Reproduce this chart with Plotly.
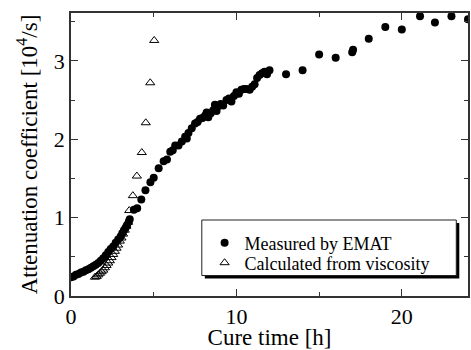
import plotly.graph_objects as go

# Measured by EMAT
meas_x = [0.0, 0.15, 0.3, 0.45, 0.6, 0.75, 0.9, 1.05, 1.2, 1.35, 1.5, 1.65, 1.8, 1.95,
          2.1, 2.25, 2.4, 2.55, 2.7, 2.85, 3.0, 3.1, 3.2, 3.3, 3.4, 3.5, 3.55,
          3.8, 4.0, 4.25, 4.5, 4.8, 5.0, 5.3, 5.6, 5.8, 6.0, 6.15, 6.3, 6.5, 6.7,
          6.9, 7.0, 7.1, 7.3, 7.5, 7.65, 7.8, 7.95, 8.1, 8.2, 8.3, 8.45, 8.6, 8.7,
          8.8, 8.9, 9.05, 9.2, 9.4, 9.55, 9.7, 9.85, 10.0, 10.15, 10.3, 10.45,
          10.6, 10.8, 10.95, 11.1, 11.25, 11.4, 11.55, 11.7, 11.85, 12.0,
          13.0, 14.0, 15.0, 16.0, 17.0, 17.05, 18.0, 19.0, 20.0, 21.1, 22.0, 23.0, 24.0]
meas_y = [0.24, 0.25, 0.27, 0.28, 0.30, 0.31, 0.33, 0.34, 0.36, 0.38, 0.40, 0.42, 0.45, 0.48,
          0.52, 0.56, 0.60, 0.63, 0.68, 0.72, 0.76, 0.80, 0.84, 0.87, 0.91, 0.95, 0.98,
          1.10, 1.12, 1.23, 1.35, 1.45, 1.51, 1.63, 1.72, 1.74, 1.84, 1.86, 1.92, 1.92, 1.97,
          2.03, 2.01, 2.08, 2.14, 2.20, 2.22, 2.26, 2.27, 2.30, 2.34, 2.28, 2.33, 2.37, 2.44,
          2.36, 2.42, 2.45, 2.43, 2.50, 2.52, 2.48, 2.55, 2.60, 2.58, 2.63, 2.64,
          2.64, 2.63, 2.67, 2.70, 2.78, 2.82, 2.84, 2.86, 2.83, 2.88,
          2.83, 2.88, 3.08, 3.04, 3.11, 3.14, 3.28, 3.43, 3.40, 3.57, 3.49, 3.57, 3.53]

# Calculated from viscosity
calc_x = [1.45, 1.55, 1.65, 1.75, 1.85, 1.95, 2.05, 2.15, 2.25, 2.35, 2.45, 2.55, 2.65,
          2.75, 2.85, 2.95, 3.05, 3.15, 3.25, 3.35, 3.45,
          3.52, 3.74, 3.98, 4.28, 4.52, 4.79, 5.03]
calc_y = [0.24, 0.25, 0.27, 0.29, 0.31, 0.33, 0.36, 0.39, 0.42, 0.45, 0.49, 0.53, 0.57,
          0.61, 0.65, 0.70, 0.74, 0.79, 0.84, 0.89, 0.94,
          1.09, 1.28, 1.53, 1.83, 2.21, 2.72, 3.26]

x_ticks = [0, 10, 20]
y_ticks = [0, 1, 2, 3]

FONT = "Liberation Serif"
PW, PH = 396.7, 283.0  # plot area size in px (for paper-coordinate offsets)

fig = go.Figure()
fig.add_trace(go.Scatter(
    x=meas_x, y=meas_y, mode="markers", name="Measured by EMAT", legend="legend",
    marker=dict(symbol="circle", size=8, color="black", line=dict(width=0)),
))
fig.add_trace(go.Scatter(
    x=calc_x, y=calc_y, mode="markers", name="Calculated from viscosity", legend="legend2",
    marker=dict(symbol="triangle-up-open", size=8, color="black", line=dict(width=1, color="black")),
))

axis_common = dict(
    showgrid=False, zeroline=False, showline=True, linecolor="#333", linewidth=1.5,
    mirror="allticks", ticks="inside", tickcolor="#333", tickwidth=1.2, automargin=False,
    tickfont=dict(family=FONT, size=22, color="black"),
)

leg_common = dict(
    xanchor="left", yanchor="middle", bgcolor="rgba(0,0,0,0)", borderwidth=0,
    font=dict(family=FONT, size=18, color="black"),
)

box_x0, box_x1 = (201.7 - 71) / PW, (456.0 - 71) / PW
box_y0, box_y1 = (296 - 275.5) / PH, (296 - 220) / PH

fig.update_layout(
    width=471, height=350,
    margin=dict(l=71, r=3.3, t=13, b=54),
    paper_bgcolor="white", plot_bgcolor="white",
    font=dict(family=FONT, color="black"),
    showlegend=True,
    legend=dict(x=(204.5 - 71) / PW, y=(296 - 243) / PH, **leg_common),
    legend2=dict(x=(204.5 - 71) / PW, y=(296 - 263) / PH, **leg_common),
    xaxis=dict(
        range=[0, 24], tickvals=x_ticks, ticklen=7,
        minor=dict(dtick=5, tick0=0, ticks="inside", ticklen=4, tickcolor="#333"),
        title=dict(text="Cure time [h]", font=dict(family=FONT, size=23), standoff=13),
        **axis_common,
    ),
    yaxis=dict(
        range=[0, 3.61], tickvals=y_ticks, ticklen=7,
        minor=dict(dtick=0.5, tick0=0, ticks="inside", ticklen=4, tickcolor="#333"),
        title=dict(text="Attenuation coefficient [10<sup>4</sup>/s]", font=dict(family=FONT, size=23), standoff=10),
        **axis_common,
    ),
)

# legend drop shadow and frame
fig.add_shape(type="rect", xref="paper", yref="paper",
              x0=box_x0 + 3 / PW, x1=box_x1 + 3 / PW, y0=box_y0 - 3 / PH, y1=box_y1 - 3 / PH,
              fillcolor="black", line=dict(width=0), layer="above")
fig.add_shape(type="rect", xref="paper", yref="paper",
              x0=box_x0, x1=box_x1, y0=box_y0, y1=box_y1,
              fillcolor="white", line=dict(width=1, color="#222"), layer="above")

fig.write_html("out.html")
